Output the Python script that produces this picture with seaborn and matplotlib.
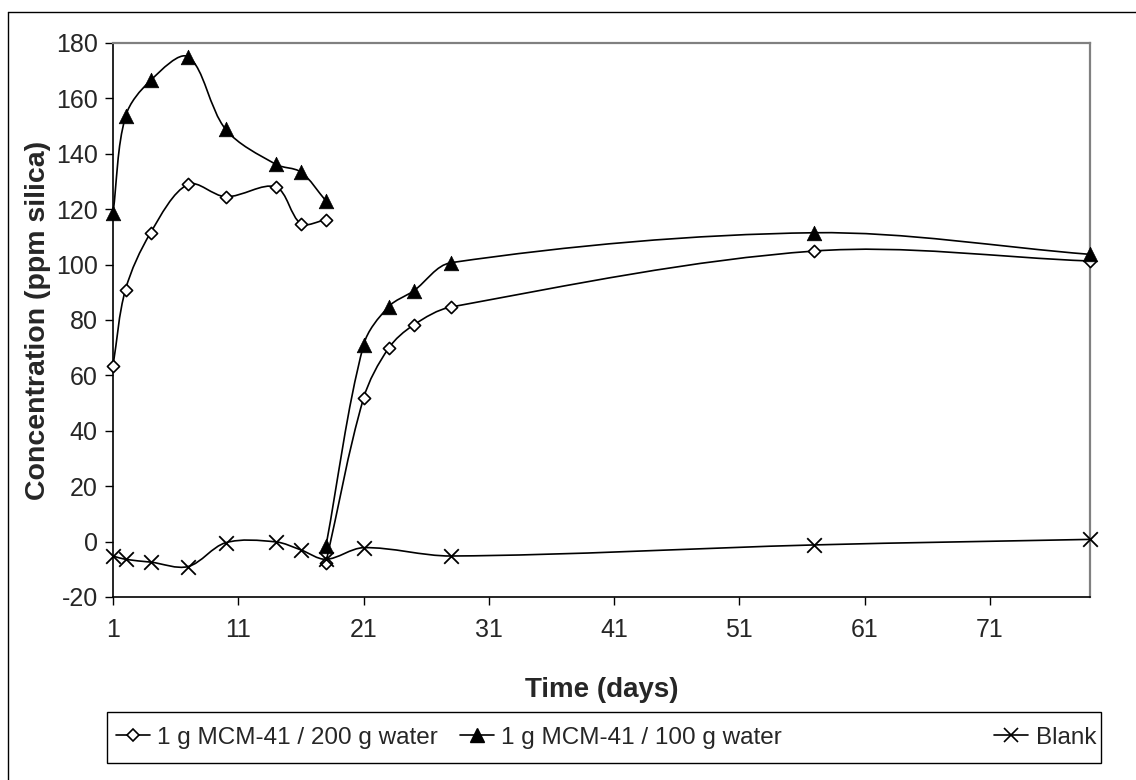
import numpy as np
import pandas as pd
import matplotlib
matplotlib.use("Agg")
import matplotlib.pyplot as plt
import seaborn as sns
from matplotlib.path import Path
from matplotlib.patches import PathPatch, Rectangle
from matplotlib.lines import Line2D

# ---- data -------------------------------------------------------------
# first run (days 1-18) and second run (restarted on day 18)
days_a = [1, 2, 4, 7, 10, 14, 16, 18]
days_b = [18, 21, 23, 25, 28, 57, 79]

mcm200_a = [63.5, 91.0, 111.5, 129.0, 124.5, 128.0, 114.8, 116.2]
mcm200_b = [-7.6, 51.7, 69.8, 78.2, 84.7, 104.9, 101.3]

mcm100_a = [118.5, 153.5, 166.5, 175.0, 148.8, 136.2, 133.4, 123.0]
mcm100_b = [-1.6, 70.9, 84.8, 90.5, 100.7, 111.5, 103.7]

blank_days = [1, 2, 4, 7, 10, 14, 16, 18, 21, 28, 57, 79]
blank = [-5.2, -6.4, -7.4, -9.0, -0.4, -0.1, -3.0, -6.4, -2.2, -5.2, -1.2, 0.8]

series_names = ["1 g MCM-41 / 200 g water", "1 g MCM-41 / 100 g water", "Blank"]
x_ticks = [1, 11, 21, 31, 41, 51, 61, 71]
y_ticks = [-20, 0, 20, 40, 60, 80, 100, 120, 140, 160, 180]

# ---- style ------------------------------------------------------------
sns.set_theme(style="white")
plt.rcParams["font.family"] = ["Liberation Sans", "DejaVu Sans"]
plt.rcParams["axes.unicode_minus"] = False

W, H = 1136, 780
fig = plt.figure(figsize=(W / 100, H / 100), dpi=100)
ax = fig.add_axes([113 / W, 1 - 597 / H, (1090 - 113) / W, (597 - 43) / H])
ax.set_xlim(1, 79)
ax.set_ylim(-20, 180)


def smooth_path(xs, ys, tension=1.0 / 3.0):
    """Bezier path through the points; handle lengths follow the on-screen
    lengths of the neighbouring segments so uneven spacing does not loop."""
    pts = np.column_stack([xs, ys]).astype(float)
    scr = ax.transData.transform(pts)
    n = len(pts)
    after = [None] * n
    before = [None] * n
    for i in range(n):
        i0, i2 = max(i - 1, 0), min(i + 1, n - 1)
        d01 = np.hypot(*(scr[i] - scr[i0]))
        d12 = np.hypot(*(scr[i2] - scr[i]))
        tot = d01 + d12
        tang = pts[i2] - pts[i0]
        before[i] = pts[i] - tang * (tension * d01 / tot if tot else 0)
        after[i] = pts[i] + tang * (tension * d12 / tot if tot else 0)
    verts = [pts[0]]
    codes = [Path.MOVETO]
    for i in range(n - 1):
        verts += [after[i], before[i + 1], pts[i + 1]]
        codes += [Path.CURVE4] * 3
    return Path(verts, codes)


LW = 1.2
for xs, ys in [(days_a, mcm200_a), (days_b, mcm200_b),
               (days_a, mcm100_a), (days_b, mcm100_b),
               (blank_days, blank)]:
    ax.add_patch(PathPatch(smooth_path(xs, ys), transform=ax.transData,
                           facecolor="none", edgecolor="black", lw=LW,
                           zorder=2, clip_on=False))

# markers
df200 = pd.DataFrame({"day": days_a + days_b, "conc": mcm200_a + mcm200_b})
df100 = pd.DataFrame({"day": days_a + days_b, "conc": mcm100_a + mcm100_b})
dfbl = pd.DataFrame({"day": blank_days, "conc": blank})

sns.scatterplot(data=df200, x="day", y="conc", ax=ax, marker="D", s=6.2 ** 2,
                color="white", edgecolor="black", linewidth=1.2, zorder=4,
                clip_on=False)
sns.scatterplot(data=df100, x="day", y="conc", ax=ax, marker="^", s=10.5 ** 2,
                color="black", edgecolor="black", linewidth=0.5, zorder=4,
                clip_on=False)
sns.scatterplot(data=dfbl, x="day", y="conc", ax=ax, marker="x", s=10.5 ** 2,
                color="black", linewidth=1.3, zorder=4, clip_on=False)

# ---- axes ---------------------------------------------------------------
ax.set_xlim(1, 79)
ax.set_ylim(-20, 180)
ax.set_xticks(x_ticks)
ax.set_yticks(y_ticks)
ax.tick_params(axis="both", which="major", direction="out", length=6, width=1,
               color="black", labelsize=18, pad=5, left=True, bottom=True)
ax.tick_params(axis="x", pad=9)

for side in ["left", "bottom"]:
    ax.spines[side].set_color("black")
    ax.spines[side].set_linewidth(1.2)
for side in ["top", "right"]:
    ax.spines[side].set_color("#808080")
    ax.spines[side].set_linewidth(1.6)
ax.grid(False)

ax.set_xlabel("Time (days)", fontsize=20, fontweight="bold")
ax.set_ylabel("Concentration (ppm silica)", fontsize=20.5, fontweight="bold")
ax.xaxis.set_label_coords(0.5, (597 - 690) / 554)
ax.xaxis.label.set_va("center")
ax.yaxis.set_label_coords((38 - 113) / 977, 0.5)
ax.yaxis.label.set_va("center")

# ---- legend -------------------------------------------------------------
handles = [
    Line2D([], [], color="black", lw=LW, marker="D", ms=6.2, mfc="white",
           mec="black", mew=1.2),
    Line2D([], [], color="black", lw=LW, marker="^", ms=10, mfc="black",
           mec="black"),
    Line2D([], [], color="black", lw=LW, marker="x", ms=10, mew=1.2),
]
box_l, box_r, box_t, box_b = 107, 1101, 712, 763
y_mid = 1 - (box_t + box_b) / 2 / H

fig.add_artist(Rectangle((box_l / W, 1 - box_b / H), (box_r - box_l) / W,
                         (box_b - box_t) / H, transform=fig.transFigure,
                         facecolor="white", edgecolor="black", lw=1.0,
                         zorder=1))

leg_kw = dict(ncol=2, fontsize=17.5, frameon=False, handlelength=1.4,
              handletextpad=0.3, columnspacing=0.9, borderpad=0.0,
              borderaxespad=0.0, bbox_transform=fig.transFigure)
leg_left = fig.legend(handles[:2], series_names[:2], loc="center left",
                      bbox_to_anchor=(116 / W, y_mid), **leg_kw)
leg_kw["ncol"] = 1
leg_right = fig.legend(handles[2:], series_names[2:], loc="center right",
                       bbox_to_anchor=(1096 / W, y_mid), **leg_kw)
for lg in (leg_left, leg_right):
    lg.set_zorder(3)

# chart-area border (left and top edges)
fig.add_artist(Line2D([8 / W, 8 / W], [0, 1 - 12 / H],
                      transform=fig.transFigure, color="black", lw=1.0))
fig.add_artist(Line2D([8 / W, 1], [1 - 12 / H, 1 - 12 / H],
                      transform=fig.transFigure, color="black", lw=1.0))

fig.savefig("out.png", dpi=100, facecolor="white")
